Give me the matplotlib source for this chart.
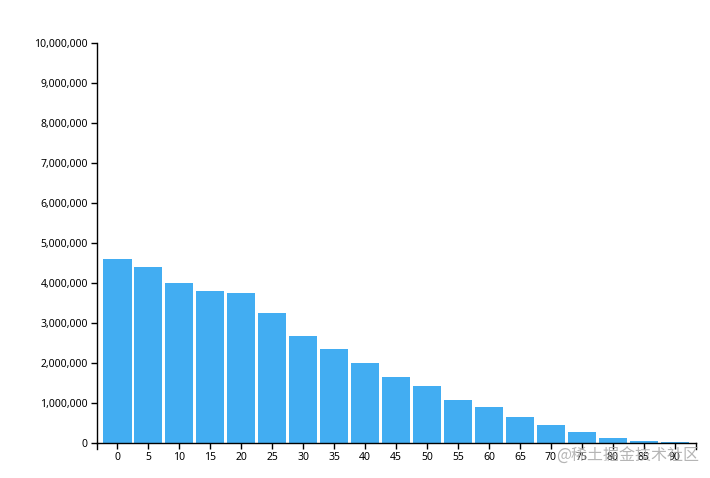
import matplotlib
matplotlib.use("Agg")
import matplotlib.pyplot as plt
import matplotlib.transforms as mtransforms
from matplotlib.ticker import FuncFormatter

# Datos: grupos de edad y población
ages = [0, 5, 10, 15, 20, 25, 30, 35, 40, 45, 50, 55, 60, 65, 70, 75, 80, 85, 90]
population = [4590000, 4400000, 4000000, 3800000, 3760000, 3240000, 2680000,
              2350000, 2010000, 1660000, 1430000, 1080000, 890000, 640000,
              440000, 275000, 135000, 60000, 25000]
y_ticks = list(range(0, 10000001, 1000000))

plt.rcParams['font.family'] = ['Noto Sans', 'DejaVu Sans']

fig = plt.figure(figsize=(7.1, 4.78), dpi=100)
W, H = 710, 478
ax = fig.add_axes([97 / W, (H - 443) / H, (696 - 97) / W, 400 / H])

x = list(range(len(ages)))
ax.bar(x, population, width=0.91, color="#42adf2", linewidth=0)

ax.set_xlim(-0.66, 18.69)
ax.set_ylim(0, 10000000)
ax.set_xticks(x)
ax.set_xticklabels([str(a) for a in ages])
ax.set_yticks(y_ticks)
ax.yaxis.set_major_formatter(FuncFormatter(lambda v, p: f"{int(v):,}"))

for s in ["top", "right"]:
    ax.spines[s].set_visible(False)
for s in ["left", "bottom"]:
    ax.spines[s].set_linewidth(1.0)
    ax.spines[s].set_color("black")

ax.tick_params(axis="both", direction="out", length=4.3, width=1.0,
               pad=2.2, labelsize=7.5, colors="black")

# ticks externos del dominio (estilo d3)
tr = mtransforms.blended_transform_factory(ax.transAxes, ax.transAxes)
off = 6 / 400
for xa in [0, 1]:
    ax.plot([xa, xa], [0, -off], color="black", lw=1.0, transform=tr, clip_on=False)

fig.text(628 / W, (H - 456) / H, "@稀土掘金技术社区", fontsize=11.5,
         color="#a8a8a8", alpha=0.85, ha="center", va="center",
         family=["Noto Sans CJK SC", "DejaVu Sans"])

fig.savefig("out.png", dpi=100, facecolor="white")
